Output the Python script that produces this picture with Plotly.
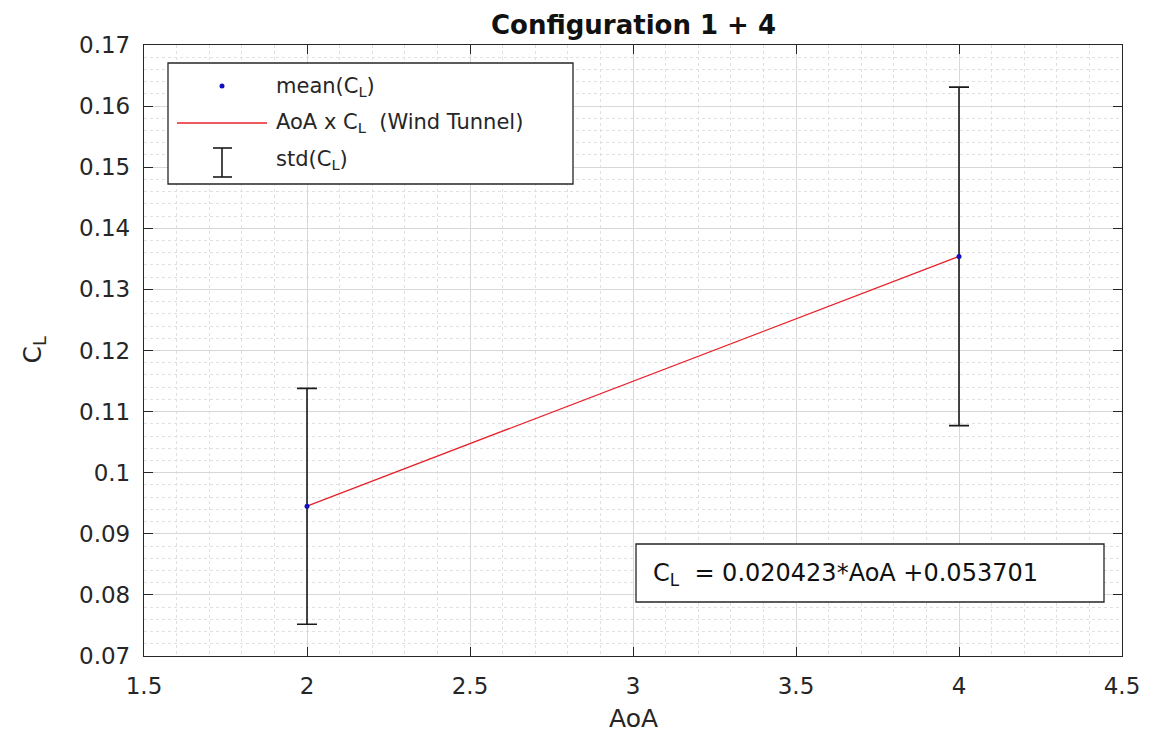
import plotly.graph_objects as go

# --- data ---------------------------------------------------------------
aoa = [2, 4]
mean_cl = [0.0945, 0.1354]
std_cl = [0.0193, 0.0277]

# linear fit reported in the text box
fit_slope = 0.020423
fit_intercept = 0.053701
fit_cl = [fit_slope * a + fit_intercept for a in aoa]

x_ticks = [1.5, 2, 2.5, 3, 3.5, 4, 4.5]
x_tick_text = ["1.5", "2", "2.5", "3", "3.5", "4", "4.5"]
y_ticks = [0.07, 0.08, 0.09, 0.10, 0.11, 0.12, 0.13, 0.14, 0.15, 0.16, 0.17]
y_tick_text = ["0.07", "0.08", "0.09", "0.1", "0.11", "0.12", "0.13",
               "0.14", "0.15", "0.16", "0.17"]

# --- page geometry --------------------------------------------------------
W, H = 1151, 741
L, R, T, B = 144, 1122, 45, 656
FONT = "DejaVu Sans, Liberation Sans, Arial, sans-serif"
INK = "#262626"


def px(x):
    return (x - L) / (R - L)


def py(y):
    return (B - y) / (B - T)


fig = go.Figure()

# standard deviation bars
fig.add_trace(go.Scatter(
    x=aoa, y=mean_cl, mode="markers",
    marker=dict(size=1, color="rgba(0,0,0,0)"),
    error_y=dict(type="data", array=std_cl, visible=True,
                 color="#1a1a1a", thickness=1.6, width=10),
    showlegend=False, hoverinfo="skip",
))

# wind-tunnel fit line
fig.add_trace(go.Scatter(
    x=aoa, y=fit_cl, mode="lines",
    line=dict(color="#e8202a", width=1.3),
    showlegend=False,
))

# mean values
fig.add_trace(go.Scatter(
    x=aoa, y=mean_cl, mode="markers",
    marker=dict(size=5, color="#1010c0"),
    showlegend=False,
))

shapes = []
annotations = []

# legend box
shapes.append(dict(type="rect", xref="paper", yref="paper",
                   x0=px(168), x1=px(573), y0=py(184), y1=py(63),
                   fillcolor="white", line=dict(color=INK, width=1.3),
                   layer="above"))
# legend glyphs
shapes.append(dict(type="circle", xref="paper", yref="paper",
                   x0=px(219.5), x1=px(224.5), y0=py(88.5), y1=py(83.5),
                   fillcolor="#1010c0", line=dict(width=0), layer="above"))
shapes.append(dict(type="line", xref="paper", yref="paper",
                   x0=px(177), x1=px(267), y0=py(123), y1=py(123),
                   line=dict(color="#e8202a", width=1.3), layer="above"))
for (x0, y0, x1, y1) in [(222, 148, 222, 177), (213, 148, 232, 148),
                         (213, 177, 232, 177)]:
    shapes.append(dict(type="line", xref="paper", yref="paper",
                       x0=px(x0), x1=px(x1), y0=py(y0), y1=py(y1),
                       line=dict(color="#1a1a1a", width=1.6), layer="above"))

legend_rows = [("mean(C<sub>L</sub>)", 87),
               ("AoA x C<sub>L</sub>  (Wind Tunnel)", 123),
               ("std(C<sub>L</sub>)", 160)]
for text, yy in legend_rows:
    annotations.append(dict(xref="paper", yref="paper", x=px(274), y=py(yy),
                            text=text, showarrow=False, xanchor="left",
                            yanchor="middle",
                            font=dict(family=FONT, size=21, color=INK)))

# fit equation box
shapes.append(dict(type="rect", xref="paper", yref="paper",
                   x0=px(636), x1=px(1104), y0=py(602), y1=py(544),
                   fillcolor="white", line=dict(color=INK, width=1.3),
                   layer="above"))
annotations.append(dict(
    xref="paper", yref="paper", x=px(651), y=py(574),
    text=f"C<sub>L</sub>  = {fit_slope:.6f}*AoA +{fit_intercept:.6f}",
    showarrow=False, xanchor="left", yanchor="middle",
    font=dict(family=FONT, size=24, color="#111111")))

# title and axis titles
annotations.append(dict(xref="paper", yref="paper", x=0.5, y=py(25),
                        text="<b>Configuration 1 + 4</b>", showarrow=False,
                        xanchor="center", yanchor="middle",
                        font=dict(family=FONT, size=26, color="#111111")))
annotations.append(dict(xref="paper", yref="paper", x=0.5, y=py(718),
                        text="AoA", showarrow=False,
                        xanchor="center", yanchor="middle",
                        font=dict(family=FONT, size=25, color=INK)))
annotations.append(dict(xref="paper", yref="paper", x=px(33), y=0.5,
                        text="C<sub>L</sub>", showarrow=False, textangle=-90,
                        xanchor="center", yanchor="middle",
                        font=dict(family=FONT, size=25, color=INK)))

axis_common = dict(
    showline=True, linecolor=INK, linewidth=1.3, mirror="ticks",
    ticks="inside", ticklen=9, tickwidth=1.3, tickcolor=INK,
    showgrid=True, gridcolor="#d8d8d8", gridwidth=1,
    zeroline=False,
    tickfont=dict(family=FONT, size=23, color=INK),
)

fig.update_xaxes(range=[1.5, 4.5], tickvals=x_ticks, ticktext=x_tick_text,
                 minor=dict(dtick=0.1, showgrid=True, gridcolor="#e0e0e0",
                            griddash="dot", gridwidth=1),
                 ticklabelstandoff=9, **axis_common)
fig.update_yaxes(range=[0.07, 0.17], tickvals=y_ticks, ticktext=y_tick_text,
                 minor=dict(dtick=0.002, showgrid=True, gridcolor="#e0e0e0",
                            griddash="dot", gridwidth=1),
                 ticklabelstandoff=8, **axis_common)

fig.update_layout(
    width=W, height=H,
    margin=dict(l=L, r=W - R, t=T, b=H - B, autoexpand=False),
    paper_bgcolor="white", plot_bgcolor="white",
    shapes=shapes, annotations=annotations,
    showlegend=False,
)

fig.write_html("out.html")
